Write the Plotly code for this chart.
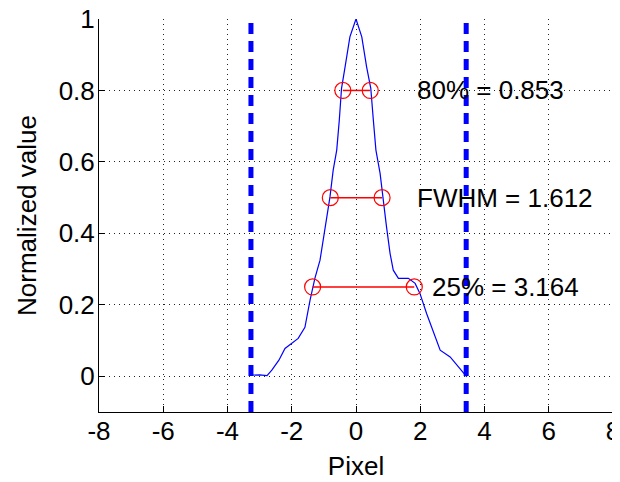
import plotly.graph_objects as go

# Profile data
pixel = [-3.3, -3.0, -2.77, -2.62, -2.4, -2.21, -1.8, -1.59, -1.43, -1.28, -1.12, -0.91, -0.81,
         -0.71, -0.6, -0.52, -0.45, -0.34, -0.19, 0.0, 0.18, 0.33, 0.46, 0.54, 0.62, 0.75, 0.83,
         0.95, 1.06, 1.16, 1.32, 1.63, 1.84, 1.99, 2.2, 2.41, 2.62, 2.93, 3.24, 3.45]
value = [0.003, 0.004, 0.002, 0.017, 0.045, 0.078, 0.106, 0.137, 0.213, 0.274, 0.325, 0.446, 0.502,
         0.577, 0.633, 0.717, 0.806, 0.866, 0.95, 1.0, 0.95, 0.866, 0.806, 0.717, 0.633, 0.568, 0.502,
         0.418, 0.344, 0.297, 0.274, 0.274, 0.26, 0.232, 0.175, 0.124, 0.073, 0.054, 0.022, -0.002]

# Width levels
levels = [0.8, 0.5, 0.25]
left_x = [-0.41, -0.80, -1.35]
right_x = [0.443, 0.812, 1.814]
labels = ["80% = 0.853", "FWHM = 1.612", "25% = 3.164"]
label_x = [1.84, 1.84, 2.3]

# Window bounds (dashed lines)
bounds = [-3.27, 3.43]

xticks = [-8, -6, -4, -2, 0, 2, 4, 6, 8]
yticks = [0, 0.2, 0.4, 0.6, 0.8, 1]

font = dict(family="Liberation Sans, Arial, sans-serif", size=26, color="black")

fig = go.Figure()

for b in bounds:
    fig.add_trace(go.Scatter(x=[b, b], y=[-0.1, 1], mode="lines",
                             line=dict(color="#0000FF", width=5, dash="11px,7px"),
                             showlegend=False, hoverinfo="skip"))

fig.add_trace(go.Scatter(x=pixel, y=value, mode="lines",
                         line=dict(color="#0000FF", width=1.2), showlegend=False))

for lv, lx, rx in zip(levels, left_x, right_x):
    fig.add_trace(go.Scatter(x=[lx, rx], y=[lv, lv], mode="lines+markers",
                             line=dict(color="#FF0000", width=1.5),
                             marker=dict(symbol="circle-open", size=16, color="#FF0000",
                                         line=dict(width=1.2, color="#FF0000")),
                             showlegend=False))

for lx, lv, txt in zip(label_x, levels, labels):
    fig.add_annotation(x=lx, y=lv, text=txt, showarrow=False, xanchor="left",
                       yanchor="middle", font=font)

axis_common = dict(showline=True, linecolor="black", linewidth=1, mirror=False,
                   ticks="inside", ticklen=6, tickcolor="black",
                   showgrid=True, gridcolor="#222222", gridwidth=1, griddash="1px,4px",
                   zeroline=False, tickfont=font, automargin=False,
                   ticklabeloverflow="allow")

fig.update_xaxes(range=[-8, 8], tickvals=xticks, ticktext=[str(t) for t in xticks],
                 title=dict(text="Pixel", font=font, standoff=11), ticklabelstandoff=-4,
                 **axis_common)
fig.update_yaxes(range=[-0.1, 1], tickvals=yticks, ticktext=["0", "0.2", "0.4", "0.6", "0.8", "1"],
                 title=dict(text="Normalized value", font=font, standoff=14), ticklabelstandoff=-2,
                 **axis_common)

# page body has an 8px margin; margins compensate so the plot area lands where it should
fig.update_layout(width=620, height=482, margin=dict(l=91, r=15, t=11, b=78, autoexpand=False),
                  plot_bgcolor="white", paper_bgcolor="white", font=font)

fig.write_html("out.html")
